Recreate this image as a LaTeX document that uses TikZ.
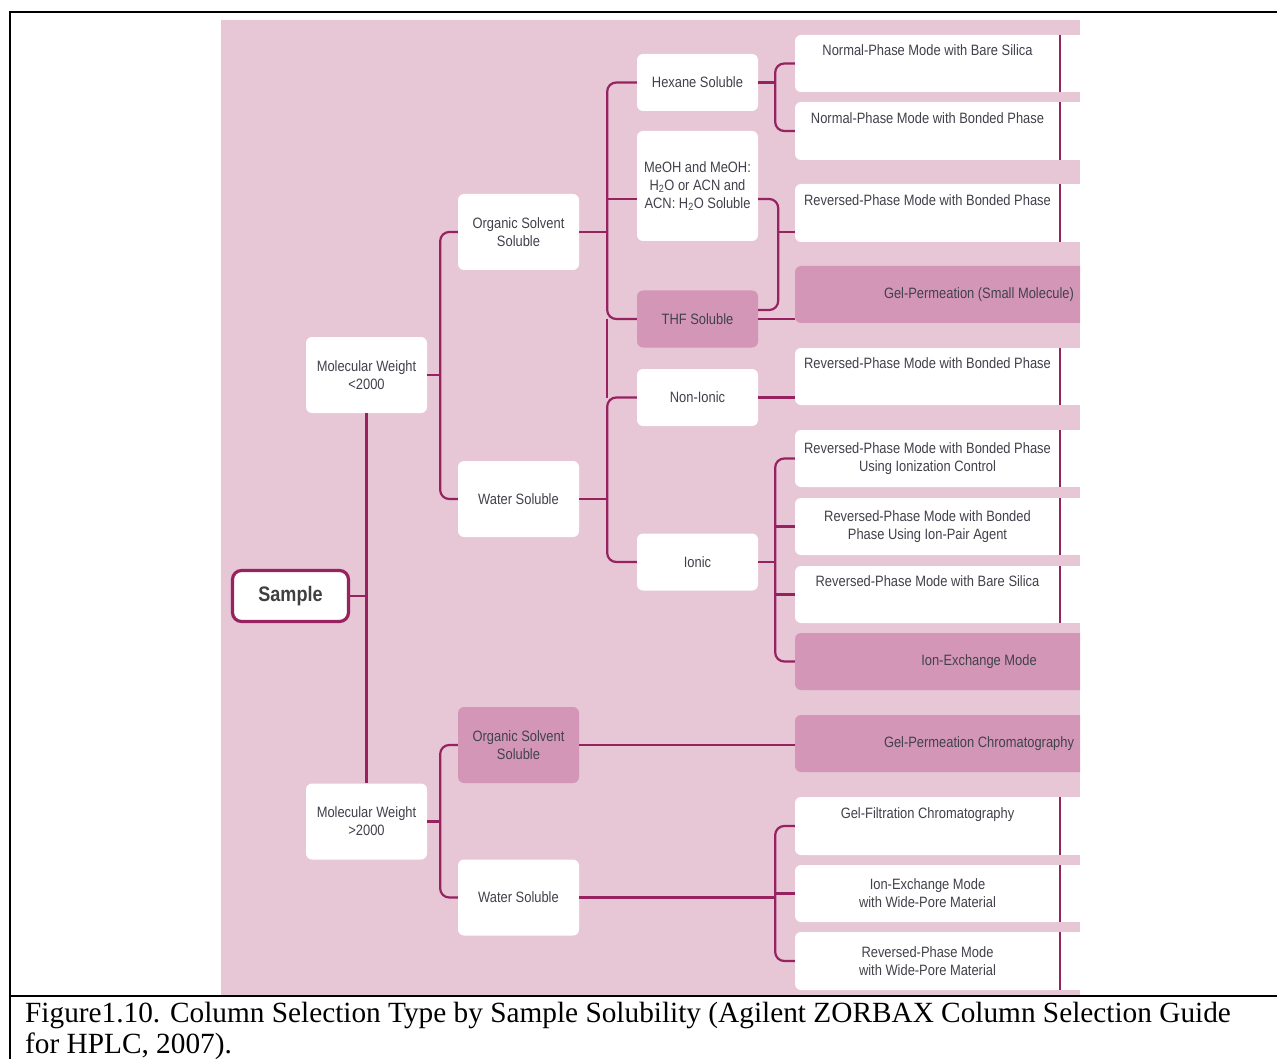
\documentclass[tikz,border=0pt]{standalone}
\usepackage{fontspec}
\setmainfont{Liberation Serif}
\newfontfamily\diag[FakeStretch=0.86]{Liberation Sans}
\definecolor{bgpink}{RGB}{231,198,214}
\definecolor{dkpink}{RGB}{212,150,182}
\definecolor{lnc}{RGB}{150,35,95}
\definecolor{txt}{RGB}{65,65,75}
\newcommand\dfont{\diag\fontsize{15}{18}\selectfont}
\tikzset{
 box/.style={rectangle, rounded corners=6pt, fill=white, draw=none, text=txt, align=center, inner sep=1pt, font=\dfont},
 dbox/.style={box, fill=dkpink},
 lbox/.style={box, minimum width=121pt, minimum height=76pt},
 mbox/.style={box, minimum width=121pt, minimum height=57pt},
 rbox/.style={box, minimum width=265pt, minimum height=57pt},
 rdbox/.style={dbox, minimum width=368pt, minimum height=57pt},
 ln/.style={draw=lnc, line width=2.2pt},
 br/.style={ln, rounded corners=9pt},
 frame/.style={draw=black, line width=1.6pt},
}
\begin{document}
\begin{tikzpicture}[x=1pt,y=-1pt]
\useasboundingbox (0,0) rectangle (1277,1059);
\begin{scope}
\clip (221,20) rectangle (1080,995);
\fill[bgpink] (221,20) rectangle (1080,995);
% level 0
\node[box, draw=lnc, line width=3.2pt, minimum width=116pt, minimum height=51pt, rounded corners=9pt, text=black!75, font=\diag\bfseries\fontsize{21}{24}\selectfont] (sample) at (290.5,596) {Sample};
% level 1
\node[lbox] (mw1) at (366.5,375) {Molecular Weight\\<2000};
\node[lbox] (mw2) at (366.5,821.5) {Molecular Weight\\>2000};
% level 2
\node[lbox] (orgT) at (518.5,232) {Organic Solvent\\Soluble};
\node[lbox] (watT) at (518.5,499) {Water Soluble};
\node[lbox, fill=dkpink] (orgB) at (518.5,745) {Organic Solvent\\Soluble};
\node[lbox] (watB) at (518.5,897.5) {Water Soluble};
% level 3
\node[mbox] (hex) at (697.5,82.5) {Hexane Soluble};
\node[box, minimum width=121pt, minimum height=110pt] (meoh) at (697.5,186) {MeOH and MeOH:\\H\textsubscript{2}O or ACN and\\ACN: H\textsubscript{2}O Soluble};
\node[mbox, fill=dkpink] (thf) at (697.5,319) {THF Soluble};
\node[mbox] (noni) at (697.5,397.5) {Non-Ionic};
\node[mbox] (ionic) at (697.5,562) {Ionic};
% level 4
\node[rbox] (rb1) at (927.5,63.5) {Normal-Phase Mode with Bare Silica\\[3pt]\strut};
\node[rbox, minimum height=58pt] (rb2) at (927.5,131) {Normal-Phase Mode with Bonded Phase\\[3pt]\strut};
\node[rbox, minimum height=58pt] (rb3) at (927.5,213) {Reversed-Phase Mode with Bonded Phase\\[3pt]\strut};
\node[rdbox] (rd4) at (979,294.5) {Gel-Permeation (Small Molecule)};
\node[rbox] (rb5) at (927.5,376.5) {Reversed-Phase Mode with Bonded Phase\\[3pt]\strut};
\node[rbox] (rb6) at (927.5,458.5) {Reversed-Phase Mode with Bonded Phase\\Using Ionization Control};
\node[rbox] (rb7) at (927.5,526.5) {Reversed-Phase Mode with Bonded\\Phase Using Ion-Pair Agent};
\node[rbox] (rb8) at (927.5,594.5) {Reversed-Phase Mode with Bare Silica\\[3pt]\strut};
\node[rdbox] (rd9) at (979,661.5) {Ion-Exchange Mode};
\node[rdbox] (rd10) at (979,743.5) {Gel-Permeation Chromatography};
\node[rbox, minimum height=58pt] (rb11) at (927.5,826) {Gel-Filtration Chromatography\\[3pt]\strut};
\node[rbox] (rb12) at (927.5,893.5) {Ion-Exchange Mode\\with Wide-Pore Material};
\node[rbox, minimum height=58pt] (rb13) at (927.5,961) {Reversed-Phase Mode\\with Wide-Pore Material};
\foreach \n in {rb1,rb2,rb3,rb5,rb6,rb7,rb8,rb11,rb12,rb13}{
  \fill[white] ([xshift=-6pt]\n.north east) rectangle ([xshift=60pt]\n.south east);
  \draw[ln] (\n.north east) -- (\n.south east);
}
% junction points
\coordinate (j1) at ([xshift=13pt]mw1.east);
\coordinate (j2) at ([xshift=13pt]mw2.east);
\coordinate (j3) at ([xshift=28pt]orgT.east);
\coordinate (j4) at ([xshift=28pt]watT.east);
\coordinate (j5) at ([xshift=17pt]hex.east);
\coordinate (m1) at ([yshift=-13pt]meoh.west);
\coordinate (m2) at ([yshift=-13pt]meoh.east);
\coordinate (j6) at ([xshift=20pt]m2);
\coordinate (t2) at ([yshift=9pt]thf.east);
\coordinate (r3) at ([yshift=-19pt]rb3.west);
\coordinate (j7) at ([xshift=17pt]ionic.east);
\coordinate (j8) at ([xshift=196pt]watB.east);
% connectors
\draw[ln] (sample.east) -- (sample.east -| mw1.south);
\draw[ln] (mw1.south) -- (mw2.north);
\draw[ln] (mw1.east) -- (j1);
\draw[br] (orgT.west) -| (j1) |- (watT.west);
\draw[ln] (mw2.east) -- (j2);
\draw[br] (orgB.west) -| (j2) |- (watB.west);
\draw[ln] (orgT.east) -- (j3);
\draw[br] (hex.west) -| (j3) |- (thf.west);
\draw[ln] (m1) -- (m1 -| j3);
\draw[ln] (thf.west -| j3) -- (noni.west -| j4);
\draw[ln] (watT.east) -- (j4);
\draw[br] (noni.west) -| (j4) |- (ionic.west);
\draw[ln] (hex.east) -- (j5);
\draw[br] (rb1.west) -| (j5) |- (rb2.west);
\draw[br] (m2) -- (j6) |- (t2);
\draw[ln] (r3 -| j6) -- (r3);
\draw[ln] (thf.east) -- (thf.east -| rd4.west);
\draw[ln] (noni.east) -- (noni.east -| rb5.west);
\draw[ln] (ionic.east) -- (j7);
\draw[br] (rb6.west) -| (j7) |- (rd9.west);
\draw[ln] (rb7.west -| j7) -- (rb7.west);
\draw[ln] (rb8.west -| j7) -- (rb8.west);
\draw[ln] (orgB.east) -- (orgB.east -| rd10.west);
\draw[ln] (watB.east) -- (j8);
\draw[br] (rb11.west) -| (j8) |- (rb13.west);
\draw[ln] (rb12.west -| j8) -- (rb12.west);
\end{scope}
% frame and caption
\draw[frame] (10,1059) -- (10,12) -- (1277,12);
\draw[frame] (10,996) -- (1277,996);
\node[anchor=base west, inner sep=0pt, font=\fontsize{29.3}{31}\selectfont] (cap1) at (25,1022.5) {Figure1.10. Column Selection Type by Sample Solubility (Agilent ZORBAX Column Selection Guide};
\node[anchor=base west, inner sep=0pt, font=\fontsize{29.3}{31}\selectfont] (cap2) at (25,1053.5) {for HPLC, 2007).};
\end{tikzpicture}
\end{document}
